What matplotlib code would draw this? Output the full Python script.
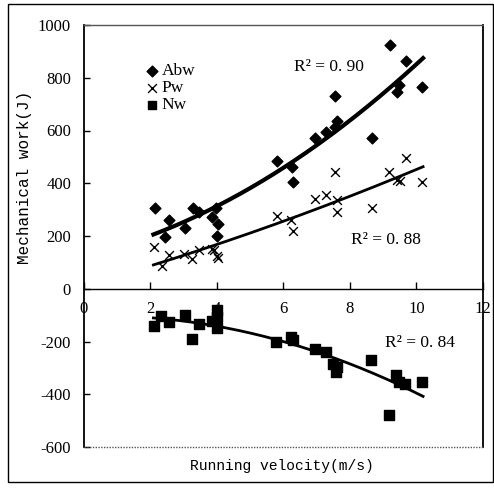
import numpy as np
import matplotlib
matplotlib.use("Agg")
import matplotlib.pyplot as plt
from matplotlib.patches import Rectangle

# ---- data ----
abw_x = [2.15, 2.46, 2.58, 3.05, 3.28, 3.48, 3.87, 3.98, 4.05, 4.02,
         5.81, 6.27, 6.29, 6.96, 7.27, 7.54, 7.62, 7.56, 8.67, 9.20,
         9.69, 9.48, 9.42, 10.18]
abw_y = [307, 197, 259, 230, 307, 290, 271, 307, 246, 201,
         484, 460, 405, 571, 594, 730, 636, 612, 573, 923,
         862, 772, 747, 765]

pw_x = [2.13, 2.35, 2.58, 3.03, 3.26, 3.48, 3.86, 3.93, 4.01, 4.04,
        5.81, 6.24, 6.29, 6.96, 7.27, 7.54, 7.61, 7.61, 8.67, 9.18,
        9.69, 9.42, 9.50, 10.18]
pw_y = [159, 85, 129, 133, 114, 148, 150, 148, 125, 116,
        277, 261, 220, 341, 356, 443, 337, 292, 306, 441,
        496, 413, 409, 406]

nw_x = [2.13, 2.33, 2.58, 3.05, 3.27, 3.48, 3.86, 4.02, 4.02, 4.00,
        5.79, 6.24, 6.29, 6.94, 7.27, 7.49, 7.61, 7.59, 8.65, 9.39,
        9.48, 9.67, 10.17, 9.18]
nw_y = [-143, -102, -126, -98, -191, -135, -124, -80, -109, -149,
        -203, -183, -193, -227, -240, -284, -297, -316, -269, -328,
        -355, -362, -355, -479]

series_names = ["Abw", "Pw", "Nw"]
r2_labels = ["R² = 0. 90", "R² = 0. 88", "R² = 0. 84"]
x_ticks = [0, 2, 4, 6, 8, 10, 12]
y_ticks = [-600, -400, -200, 0, 200, 400, 600, 800, 1000]
x_label = "Running velocity(m/s)"
y_label = "Mechanical work(J)"

serif = "Liberation Serif"
mono = "Liberation Mono"

W, H = 494, 488
fig = plt.figure(figsize=(W / 100, H / 100), dpi=100)
fig.patch.set_facecolor("white")

# outer frame around the figure
fig.patches.append(Rectangle((8 / W, 1 - 482 / H), (493 - 8) / W, (482 - 4) / H,
                             transform=fig.transFigure, fill=False,
                             edgecolor="black", linewidth=1.0))

ax = fig.add_axes([83.5 / W, 1 - 447 / H, (483 - 83.5) / W, (447 - 25) / H])
ax.set_xlim(0, 12)
ax.set_ylim(-600, 1000)

# spines
ax.spines["bottom"].set_position(("data", 0))
ax.spines["bottom"].set_linewidth(1.0)
ax.spines["left"].set_linewidth(1.3)
ax.spines["right"].set_linewidth(1.3)
ax.spines["top"].set_linestyle((0, (1, 1)))
ax.spines["top"].set_color("#555555")
ax.spines["top"].set_linewidth(1.0)
ax.plot([0, 12], [-600, -600], linestyle=(0, (1, 1)), color="#555555",
        linewidth=1.0, clip_on=False, zorder=3)

ax.set_xticks(x_ticks)
ax.set_xticklabels([str(t) for t in x_ticks], fontfamily=serif, fontsize=12)
ax.set_yticks(y_ticks)
ax.set_yticklabels([str(t) for t in y_ticks], fontfamily=serif, fontsize=12)
ax.tick_params(axis="x", direction="in", length=5, width=1, pad=9)
ax.tick_params(axis="y", direction="in", length=4, width=1, pad=9)

# scatter points
ax.scatter(abw_x, abw_y, marker="D", s=30, color="black", zorder=4)
ax.scatter(pw_x, pw_y, marker="x", s=40, color="black", linewidths=1.0, zorder=4)
ax.scatter(nw_x, nw_y, marker="s", s=45, color="black", zorder=4)

# fitted trend lines (2nd-order polynomial regressions)
xs = np.linspace(2.1, 10.2, 200)
for xv, yv, lw in [(abw_x, abw_y, 3.0), (pw_x, pw_y, 2.0), (nw_x, nw_y, 2.0)]:
    c = np.polyfit(xv, yv, 2)
    ax.plot(xs, np.polyval(c, xs), color="black", linewidth=lw, zorder=3)

# R^2 labels
ax.text(6.32, 840, r2_labels[0], fontfamily=serif, fontsize=12.5, va="center")
ax.text(8.05, 185, r2_labels[1], fontfamily=serif, fontsize=12.5, va="center")
ax.text(9.05, -205, r2_labels[2], fontfamily=serif, fontsize=12.5, va="center")

# legend
leg_markers = ["D", "x", "s"]
leg_sizes = [30, 40, 40]
for i, (name, mk, sz) in enumerate(zip(series_names, leg_markers, leg_sizes)):
    yy = 824 - i * 64
    ax.scatter([2.05], [yy], marker=mk, s=sz, color="black",
               linewidths=1.0, zorder=4)
    ax.text(2.35, yy, name, fontfamily=serif, fontsize=12.5, va="center")

# axis titles
fig.text(281.5 / W, 1 - 466 / H, x_label, fontfamily=mono, fontsize=10.5,
         ha="center", va="center")
fig.text(25 / W, 1 - 177 / H, y_label, fontfamily=mono, fontsize=11.5,
         ha="center", va="center", rotation=90)

fig.savefig("out.png", dpi=100)
